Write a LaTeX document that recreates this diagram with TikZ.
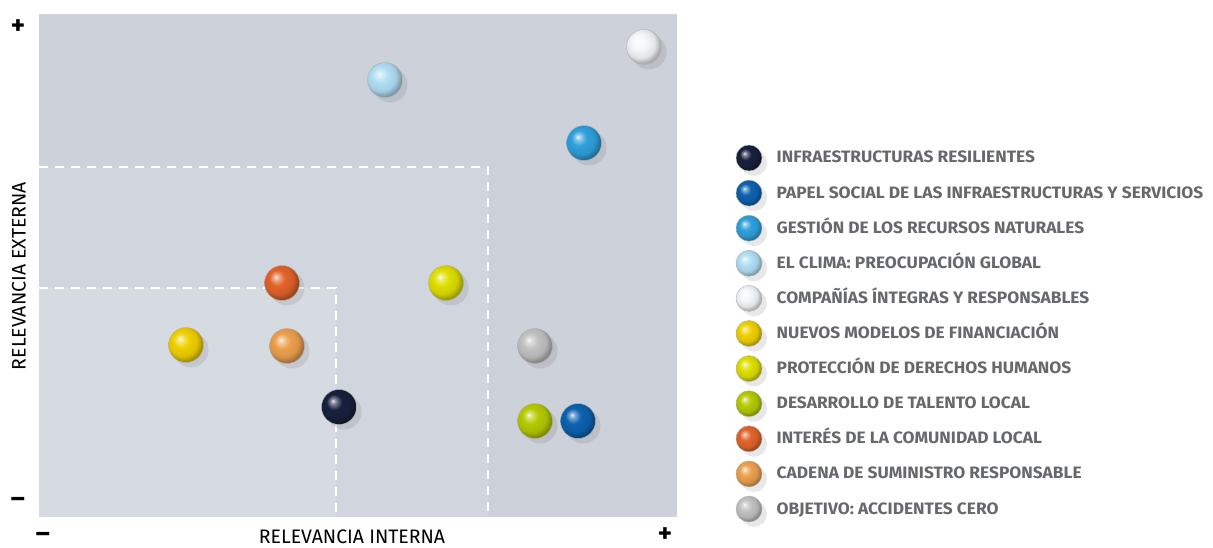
\documentclass[tikz,border=0pt]{standalone}
\usepackage{fontspec}
\setmainfont{Fira Sans}
\newfontfamily\legendfont{Fira Sans}[FakeStretch=1.05]
\newfontfamily\axisfont{Fira Sans}
\usetikzlibrary{positioning,shadows}

\definecolor{textgray}{HTML}{66686B}
\definecolor{zoneout}{HTML}{CDD1D9}
\definecolor{zonemid}{HTML}{D1D5DD}
\definecolor{zonein}{HTML}{D6DAE1}
\definecolor{cinfra}{HTML}{18213D}
\definecolor{cpapel}{HTML}{0D62B0}
\definecolor{cgestion}{HTML}{30A0DC}
\definecolor{cclima}{HTML}{B2DFF5}
\definecolor{ccompania}{HTML}{F4F7F9}
\definecolor{cnuevos}{HTML}{F0D000}
\definecolor{cproteccion}{HTML}{DFDF00}
\definecolor{cdesarrollo}{HTML}{B5CA00}
\definecolor{cinteres}{HTML}{E2632B}
\definecolor{ccadena}{HTML}{ECA04E}
\definecolor{cobjetivo}{HTML}{C2C2C2}
\colorlet{balltone}{gray}

\pgfdeclareradialshading[balltone]{glossy}{\pgfqpoint{-9bp}{9bp}}{%
  color(0bp)=(balltone!10!white); color(4bp)=(balltone!55!white);
  color(11bp)=(balltone); color(21bp)=(balltone!92!black);
  color(27bp)=(balltone!70!black); color(50bp)=(balltone!55!black)}

\tikzset{
  sphere/.style={circle,minimum size=35pt,inner sep=0pt,
    /utils/exec={\colorlet{balltone}{#1}},shading=glossy,
    draw=black!30,line width=0.4pt,
    drop shadow={shadow xshift=5pt,shadow yshift=-5pt,opacity=0.13,fill=black!70}},
  legsphere/.style={sphere=#1,minimum size=26pt},
  legtext/.style={font=\legendfont\bfseries\fontsize{16.5}{16.5}\selectfont,text=textgray,
    text height=11pt,text depth=1pt,anchor=west},
  axistext/.style={font=\axisfont\fontsize{19.5}{19.5}\selectfont},
  sign/.style={font=\bfseries\fontsize{27}{27}\selectfont,inner sep=0pt},
  zoneline/.style={white,line width=2.2pt,dash pattern=on 9pt off 7pt}
}

\begin{document}
\begin{tikzpicture}[x=1pt,y=-1pt]
  \useasboundingbox (0,0) rectangle (1213,548);

  % zones of the matrix
  \fill[zoneout] (39,14) rectangle (677,517);
  \fill[zonemid] (39,167) rectangle (488,517);
  \fill[zonein] (39,288) rectangle (336,517);
  \draw[zoneline] (39,167) -- (488,167) -- (488,517);
  \draw[zoneline] (39,288) -- (336,288) -- (336,517);

  % axes
  \node[sign] (yplus) at (18,27) {+};
  \node[sign] (yminus) at (18,502) {\textendash};
  \node[sign] (xminus) at (43,537) {\textendash};
  \node[sign] (xplus) at (665,535) {+};
  \node[axistext] (xlabel) at (352,537) {RELEVANCIA INTERNA};
  \node[axistext,rotate=90] (ylabel) at (19,276) {RELEVANCIA EXTERNA};

  % matters
  \node[sphere=cclima] (clima) at (385,80) {};
  \node[sphere=ccompania] (compania) at (644,47) {};
  \node[sphere=cgestion] (gestion) at (584,143) {};
  \node[sphere=cinteres] (interes) at (282,283) {};
  \node[sphere=cproteccion] (proteccion) at (446,283) {};
  \node[sphere=cnuevos] (nuevos) at (186,345) {};
  \node[sphere=ccadena] (cadena) at (287,346) {};
  \node[sphere=cobjetivo] (objetivo) at (535,346) {};
  \node[sphere=cinfra] (infra) at (339,407) {};
  \node[sphere=cdesarrollo] (desarrollo) at (535,421) {};
  \node[sphere=cpapel] (papel) at (578,421) {};

  % legend
  \node[legsphere=cinfra] (l1) at (749,158) {};
  \node[legsphere=cpapel,below=8.7pt of l1] (l2) {};
  \node[legsphere=cgestion,below=8.7pt of l2] (l3) {};
  \node[legsphere=cclima,below=8.7pt of l3] (l4) {};
  \node[legsphere=ccompania,below=8.7pt of l4] (l5) {};
  \node[legsphere=cnuevos,below=8.7pt of l5] (l6) {};
  \node[legsphere=cproteccion,below=8.7pt of l6] (l7) {};
  \node[legsphere=cdesarrollo,below=8.7pt of l7] (l8) {};
  \node[legsphere=cinteres,below=8.7pt of l8] (l9) {};
  \node[legsphere=ccadena,below=8.7pt of l9] (l10) {};
  \node[legsphere=cobjetivo,below=8.7pt of l10] (l11) {};

  \node[legtext,right=11pt of l1] (t1) {INFRAESTRUCTURAS RESILIENTES};
  \node[legtext,right=11pt of l2] (t2) {PAPEL SOCIAL DE LAS INFRAESTRUCTURAS Y SERVICIOS};
  \node[legtext,right=11pt of l3] (t3) {GESTIÓN DE LOS RECURSOS NATURALES};
  \node[legtext,right=11pt of l4] (t4) {EL CLIMA: PREOCUPACIÓN GLOBAL};
  \node[legtext,right=11pt of l5] (t5) {COMPAÑÍAS ÍNTEGRAS Y RESPONSABLES};
  \node[legtext,right=11pt of l6] (t6) {NUEVOS MODELOS DE FINANCIACIÓN};
  \node[legtext,right=11pt of l7] (t7) {PROTECCIÓN DE DERECHOS HUMANOS};
  \node[legtext,right=11pt of l8] (t8) {DESARROLLO DE TALENTO LOCAL};
  \node[legtext,right=11pt of l9] (t9) {INTERÉS DE LA COMUNIDAD LOCAL};
  \node[legtext,right=11pt of l10] (t10) {CADENA DE SUMINISTRO RESPONSABLE};
  \node[legtext,right=11pt of l11] (t11) {OBJETIVO: ACCIDENTES CERO};
\end{tikzpicture}
\end{document}
